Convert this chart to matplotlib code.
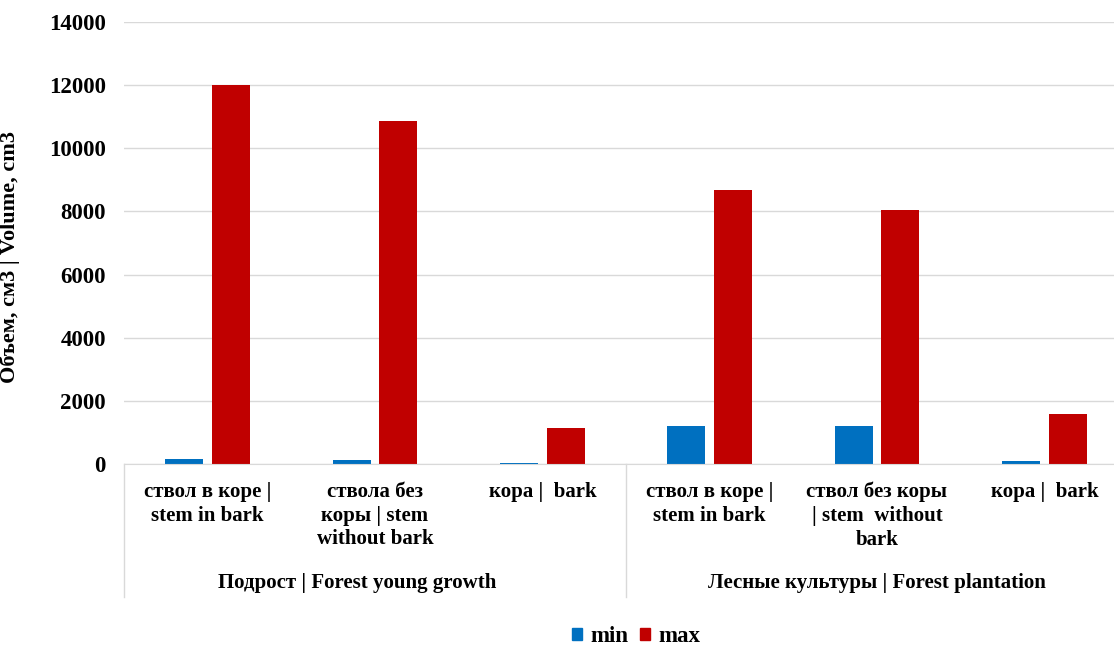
import matplotlib
matplotlib.use("Agg")
import matplotlib.pyplot as plt
from matplotlib.patches import Patch
import numpy as np

categories = ["ствол в коре |\nstem in bark", "ствола без\nкоры | stem\nwithout bark", "кора |  bark",
              "ствол в коре |\nstem in bark", "ствол без коры\n| stem  without\nbark", "кора |  bark"]
groups = ["Подрост | Forest young growth", "Лесные культуры | Forest plantation"]
min_vals = [160, 130, 40, 1215, 1210, 95]
max_vals = [12020, 10870, 1150, 8680, 8050, 1575]
yticks = [0, 2000, 4000, 6000, 8000, 10000, 12000, 14000]

plt.rcParams['font.family'] = ['Liberation Serif', 'DejaVu Serif']
plt.rcParams['font.weight'] = 'bold'

W, H = 1114, 648
fig = plt.figure(figsize=(W / 100, H / 100), dpi=100)
left, right, top, base = 124, 1114, 22, 464
ax = fig.add_axes([left / W, (H - base) / H, (right - left) / W, (base - top) / H])

x = np.arange(len(categories))
bw = 0.227
off = 0.14
ax.bar(x - off, min_vals, bw, color='#0070C0', label='min', zorder=3)
ax.bar(x + off, max_vals, bw, color='#C00000', label='max', zorder=3)

catw = 1004 / 6  # pixel width of one category
ax.set_xlim(-0.5, -0.5 + (right - left) / catw)
ax.set_ylim(0, 14000)
ax.set_yticks(yticks)
ax.set_yticklabels([str(v) for v in yticks], fontsize=16.5, fontweight='bold')
ax.tick_params(axis='y', length=0, pad=13)
ax.set_xticks([])
ax.grid(axis='y', color='#d9d9d9', linewidth=1, zorder=0)
for s in ['left', 'right', 'top']:
    ax.spines[s].set_visible(False)
ax.spines['bottom'].set_color('#d9d9d9')
ax.spines['bottom'].set_zorder(4)

axh = base - top
ax.set_ylabel("Объем, см3 | Volume, cm3", fontsize=16, fontweight='bold')
ax.yaxis.set_label_coords(-(124 - 20) / (right - left), (base - 257) / axh)

trans = ax.get_xaxis_transform()
for i, lab in enumerate(categories):
    ax.text(i, -18 / axh, lab, transform=trans, ha='center', va='top', fontsize=15,
            fontweight='bold', linespacing=1.25)
group_x = [1 - 18 / catw, 4]
for g, name in enumerate(groups):
    ax.text(group_x[g], -(583 - base) / axh, name, transform=trans, ha='center', va='center',
            fontsize=15, fontweight='bold')
for xs in [-0.5, 2.5, 5.5]:
    ax.plot([xs, xs], [0, -(597 - base) / axh], transform=trans, color='#d9d9d9',
            linewidth=1, clip_on=False)

handles = [Patch(color='#0070C0', label='min'), Patch(color='#C00000', label='max')]
fig.legend(handles=handles, loc='center', bbox_to_anchor=(636 / W, 1 - 637 / H), ncol=2,
           frameon=False, fontsize=16.5, handlelength=0.45, handleheight=0.45,
           handletextpad=0.35, columnspacing=0.5)

fig.savefig("out.png", dpi=100)
